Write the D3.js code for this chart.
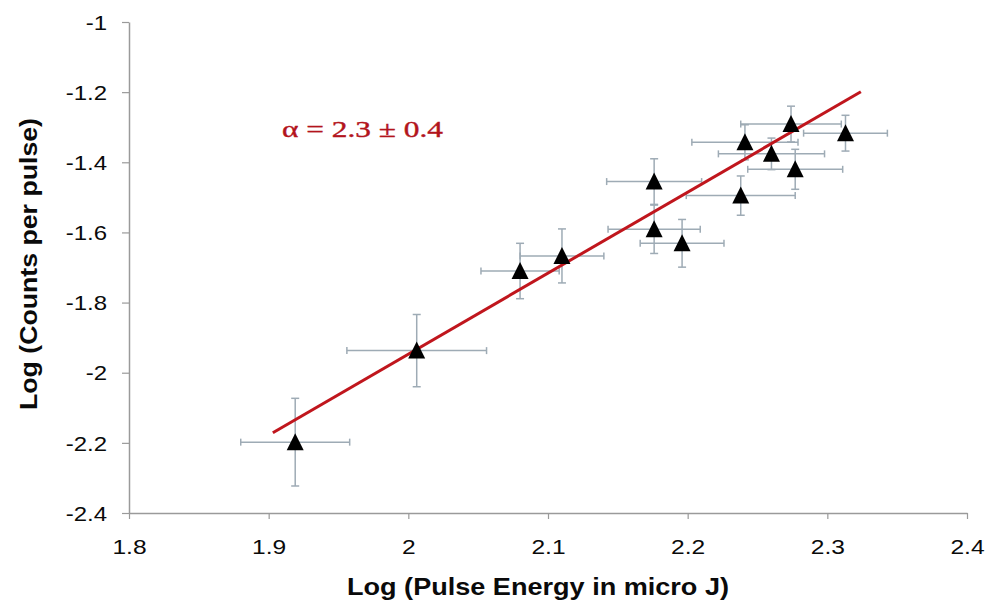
<!DOCTYPE html>
<html lang="en">
	<head>
		<meta charset="UTF-8" />
		<title>Log counts vs log pulse energy</title>
		<script src="https://d3js.org/d3.v7.min.js"></script>
		<style>
			body {
				margin: 0;
				background: #fff;
			}
			svg {
				display: block;
			}
		</style>
	</head>
	<body>
		<svg id="svg" width="986" height="601"></svg>
		<script>
			// data
			const logEnergy = [1.919, 2.006, 2.080, 2.110, 2.176, 2.176, 2.196, 2.238, 2.241, 2.260, 2.274, 2.277, 2.313];
			const logCounts = [-2.198, -1.937, -1.710, -1.667, -1.455, -1.591, -1.631, -1.495, -1.343, -1.376, -1.291, -1.420, -1.317];
			const xErr = [0.039, 0.050, 0.028, 0.030, 0.034, 0.033, 0.030, 0.039, 0.038, 0.038, 0.036, 0.034, 0.030];
			const yErr = [0.125, 0.103, 0.079, 0.077, 0.065, 0.069, 0.068, 0.056, 0.050, 0.045, 0.051, 0.057, 0.051];

			const fitRange = [1.903, 2.324];
			const fitSlope = 2.309;
			const fitIntercept = -6.565;

			const xTicks = [1.8, 1.9, 2.0, 2.1, 2.2, 2.3, 2.4];
			const yTicks = [-1, -1.2, -1.4, -1.6, -1.8, -2, -2.2, -2.4];

			const SX = 1.17; // the scan is a bit wider than tall

			const svg = d3.select("svg");

			const x = d3.scaleLinear().domain([1.8, 2.4]).range([129, 967]);
			const y = d3.scaleLinear().domain([-2.4, -1]).range([513, 22]);

			// y axis
			const yAxis = svg
				.append("g")
				.attr("transform", "translate(129,0)")
				.call(
					d3
						.axisLeft(y)
						.tickValues(yTicks)
						.tickSize(7)
						.tickSizeOuter(0)
						.tickFormat((d) => String(+d.toFixed(1)))
				);
			yAxis.select(".domain").attr("stroke", "#9a9a9a").attr("stroke-width", 1.5);
			yAxis.selectAll(".tick line").attr("stroke", "#9a9a9a").attr("stroke-width", 1.2);
			yAxis
				.selectAll(".tick text")
				.attr("x", -22 / SX)
				.attr("dy", "0.35em")
				.attr("transform", `scale(${SX},1)`)
				.attr("font-family", "Liberation Sans, Arial, sans-serif")
				.attr("font-size", 20.5)
				.attr("fill", "#0a0a0a");

			// x axis
			const xAxis = svg
				.append("g")
				.attr("transform", "translate(0,513)")
				.call(
					d3
						.axisBottom(x)
						.tickValues(xTicks)
						.tickSize(6)
						.tickSizeOuter(0)
						.tickFormat((d) => String(+d.toFixed(1)))
				);
			xAxis.select(".domain").attr("stroke", "#9a9a9a").attr("stroke-width", 1.5);
			xAxis.selectAll(".tick line").attr("stroke", "#9a9a9a").attr("stroke-width", 1.2);
			xAxis
				.selectAll(".tick text")
				.attr("y", 41)
				.attr("dy", 0)
				.attr("transform", `scale(${SX},1)`)
				.attr("font-family", "Liberation Sans, Arial, sans-serif")
				.attr("font-size", 21)
				.attr("fill", "#0a0a0a");

			// error bars
			const pts = logEnergy.map((e, i) => ({ e, c: logCounts[i], dx: xErr[i], dy: yErr[i] }));
			const eb = svg.append("g").attr("stroke", "#9eabb5").attr("stroke-width", 1.5).attr("fill", "none");
			pts.forEach((p) => {
				const cx = x(p.e),
					cy = y(p.c);
				const x0 = x(p.e - p.dx),
					x1 = x(p.e + p.dx);
				const y0 = y(p.c + p.dy),
					y1 = y(p.c - p.dy);
				eb.append("line").attr("x1", x0).attr("x2", x1).attr("y1", cy).attr("y2", cy);
				eb.append("line").attr("x1", x0).attr("x2", x0).attr("y1", cy - 3.5).attr("y2", cy + 3.5);
				eb.append("line").attr("x1", x1).attr("x2", x1).attr("y1", cy - 3.5).attr("y2", cy + 3.5);
				eb.append("line").attr("x1", cx).attr("x2", cx).attr("y1", y0).attr("y2", y1);
				eb.append("line").attr("x1", cx - 4).attr("x2", cx + 4).attr("y1", y0).attr("y2", y0);
				eb.append("line").attr("x1", cx - 4).attr("x2", cx + 4).attr("y1", y1).attr("y2", y1);
			});

			// fit line
			const line = d3
				.line()
				.x((d) => x(d))
				.y((d) => y(fitIntercept + fitSlope * d));
			svg.append("path")
				.datum(fitRange)
				.attr("d", line)
				.attr("stroke", "#c0161d")
				.attr("stroke-width", 3)
				.attr("fill", "none");

			// triangles
			svg.selectAll(".pt")
				.data(pts)
				.enter()
				.append("path")
				.classed("pt", true)
				.attr("transform", (d) => `translate(${x(d.e)},${y(d.c)})`)
				.attr("d", "M0,-9L8.5,8L-8.5,8Z")
				.attr("fill", "#000");

			// annotation
			svg.append("text")
				.attr("x", 282)
				.attr("y", 137)
				.attr("font-family", "Liberation Serif, Times New Roman, serif")
				.attr("font-size", 24)
				.attr("stroke", "#b3141c")
				.attr("stroke-width", 0.4)
				.attr("fill", "#b3141c")
				.attr("textLength", 161)
				.attr("lengthAdjust", "spacingAndGlyphs")
				.text("α = 2.3 ± 0.4");

			// axis titles
			svg.append("text")
				.attr("x", 347)
				.attr("y", 595)
				.attr("font-family", "Liberation Sans, Arial, sans-serif")
				.attr("font-weight", "bold")
				.attr("font-size", 23)
				.attr("fill", "#0a0a0a")
				.attr("textLength", 382)
				.attr("lengthAdjust", "spacingAndGlyphs")
				.text("Log (Pulse Energy in micro J)");

			svg.append("text")
				.attr("transform", "translate(37,410) rotate(-90)")
				.attr("font-family", "Liberation Sans, Arial, sans-serif")
				.attr("font-weight", "bold")
				.attr("font-size", 23)
				.attr("fill", "#0a0a0a")
				.attr("textLength", 292)
				.attr("lengthAdjust", "spacingAndGlyphs")
				.text("Log (Counts per pulse)");
		</script>
	</body>
</html>
